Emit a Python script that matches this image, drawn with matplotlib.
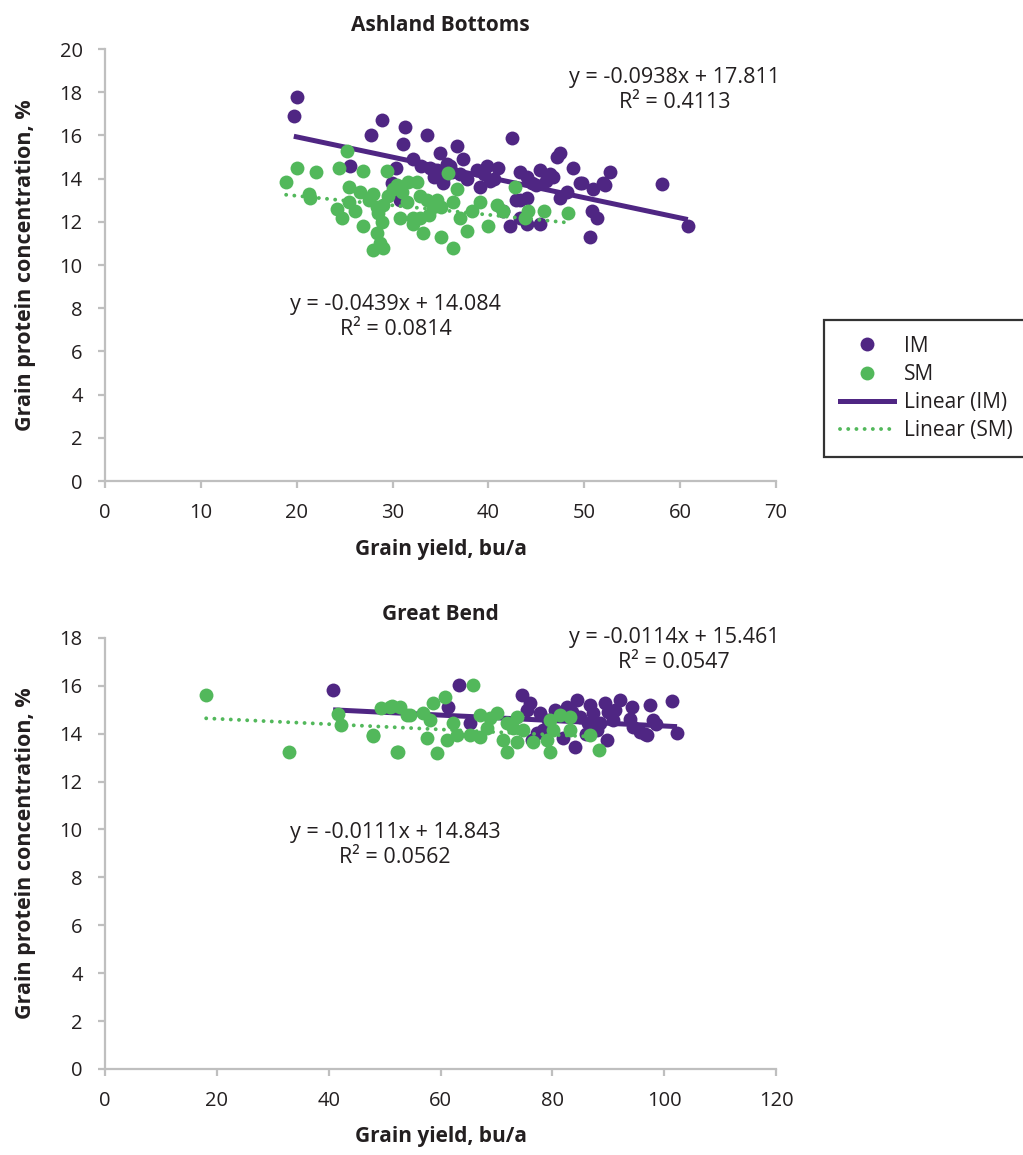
import numpy as np
import matplotlib
matplotlib.use('Agg')
import matplotlib.pyplot as plt
from matplotlib.lines import Line2D

plt.rcParams['font.family'] = ['Open Sans', 'DejaVu Sans']

purple = '#4f2683'
green = '#52b85b'
txt = '#231f20'
gray = '#bfbfbf'

# ---- Ashland Bottoms ----
ab_im_x = [19.7, 20.0, 25.6, 27.7, 28.9, 31.3, 31.1, 33.6, 42.5, 30.4, 29.9, 30.8,
           32.1, 33.0, 33.9, 34.3, 34.9, 35.3, 35.7, 35.3, 36.7, 37.3, 36.2, 38.8,
           39.8, 39.1, 40.2, 41.5, 42.2, 42.9, 43.3, 44.0, 44.5, 45.4, 46.4, 46.7,
           47.2, 47.5, 48.8, 48.2, 49.8, 49.6, 50.9, 52.7, 52.2, 52.0, 43.3, 44.0,
           47.5, 45.4, 44.0, 50.8, 51.3, 50.6, 58.1, 60.8, 43.3, 45.0, 46.0, 41.0,
           37.8, 39.5, 34.6, 36.0, 37.0, 40.6]
ab_im_y = [16.9, 17.8, 14.6, 16.0, 16.7, 16.4, 15.6, 16.0, 15.9, 14.5, 13.8, 13.0,
           14.9, 14.6, 14.5, 14.1, 15.2, 14.0, 14.7, 13.8, 15.5, 14.9, 14.3, 14.4,
           14.6, 13.6, 13.9, 12.5, 11.8, 13.0, 14.3, 14.1, 13.8, 14.4, 14.2, 14.1,
           15.0, 15.2, 14.5, 13.4, 13.8, 13.8, 13.5, 14.3, 13.7, 13.8, 13.0, 13.1,
           13.1, 11.9, 11.9, 12.5, 12.2, 11.3, 13.75, 11.8, 12.2, 13.7, 13.9, 14.5,
           14.0, 14.2, 14.4, 14.6, 14.2, 14.0]
ab_sm_x = [25.2, 20.0, 22.0, 24.4, 26.9, 29.4, 18.9, 21.3, 21.4, 24.2, 24.7, 25.5,
           26.6, 25.5, 26.1, 28.0, 29.0, 28.4, 28.5, 26.9, 28.9, 28.4, 28.7, 28.0,
           29.0, 30.0, 30.5, 31.6, 32.5, 31.5, 32.9, 33.6, 34.2, 35.0, 30.8, 32.1,
           32.9, 32.1, 33.2, 35.0, 36.3, 35.8, 36.7, 36.3, 37.0, 37.8, 38.3, 39.1,
           40.0, 40.9, 41.5, 42.8, 44.1, 43.8, 45.8, 48.3, 27.5, 29.5, 31.0, 33.8,
           34.6]
ab_sm_y = [15.3, 14.5, 14.3, 14.5, 14.35, 14.35, 13.85, 13.3, 13.1, 12.6, 12.2, 13.6,
           13.4, 12.9, 12.5, 13.3, 12.8, 12.7, 12.4, 11.8, 12.0, 11.5, 11.0, 10.7,
           10.8, 13.5, 13.7, 13.85, 13.85, 12.9, 13.2, 13.0, 12.7, 12.7, 12.2, 12.2,
           12.2, 11.9, 11.5, 11.3, 10.8, 14.25, 13.5, 12.9, 12.2, 11.6, 12.5, 12.9,
           11.8, 12.8, 12.5, 13.6, 12.5, 12.2, 12.5, 12.4, 13.0, 13.2, 13.4, 12.3,
           13.0]
ab_im_fit = (-0.0938, 17.811, 0.4113)
ab_sm_fit = (-0.0439, 14.084, 0.0814)

# ---- Great Bend ----
gb_im_x = [40.8, 63.3, 61.4, 65.3, 74.6, 76.0, 75.5, 77.8, 78.4, 77.3, 82.6, 84.4,
           86.8, 87.3, 89.4, 92.1, 94.3, 90.9, 88.6, 89.8, 84.1, 81.9, 86.4, 94.5,
           95.7, 96.9, 98.0, 101.4, 102.3, 85.0, 88.0, 97.5, 91.2, 93.9, 96.6, 79.2,
           76.4, 83.5, 90.0, 86.0, 98.5, 80.5]
gb_im_y = [15.83, 16.04, 15.1, 14.45, 15.6, 15.3, 15.0, 14.87, 14.16, 14.03, 15.1, 15.4,
           15.2, 14.87, 15.3, 15.4, 15.1, 14.58, 14.45, 13.74, 13.45, 13.83, 14.45, 14.29,
           14.08, 13.95, 14.58, 15.37, 14.03, 14.7, 14.16, 15.2, 15.0, 14.6, 14.0, 14.58,
           13.74, 14.9, 14.9, 14.0, 14.4, 15.0]
gb_sm_x = [18.1, 32.9, 41.7, 42.2, 47.9, 49.4, 51.3, 52.2, 65.8, 51.0, 52.8, 54.0,
           56.9, 58.7, 60.8, 58.1, 57.6, 61.2, 63.0, 59.4, 52.4, 62.3, 65.3, 67.1,
           68.3, 70.1, 68.9, 71.9, 73.0, 74.8, 71.2, 71.9, 73.7, 76.6, 79.1, 79.6,
           81.4, 79.6, 83.2, 83.2, 86.8, 88.4, 80.1, 67.1, 73.7, 48.0, 54.5]
gb_sm_y = [15.6, 13.24, 14.83, 14.37, 13.91, 15.08, 15.16, 13.24, 16.04, 15.1, 15.1, 14.79,
           14.87, 15.29, 15.54, 14.58, 13.83, 13.74, 13.95, 13.2, 13.24, 14.45, 13.95, 13.87,
           14.24, 14.87, 14.66, 14.45, 14.24, 14.16, 13.74, 13.24, 13.66, 13.66, 13.74, 13.24,
           14.79, 14.58, 14.7, 14.16, 13.95, 13.32, 14.16, 14.79, 14.7, 13.95, 14.8]
gb_im_fit = (-0.0114, 15.461, 0.0547)
gb_sm_fit = (-0.0111, 14.843, 0.0562)


def fit_text(fit):
    return 'y = %gx + %g\nR\u00b2 = %g' % (fit[0], fit[1], fit[2])


def draw_panel(ax, title, im_x, im_y, sm_x, sm_y, im_fit, sm_fit,
               xmax, xstep, ymax, im_pos, sm_pos):
    ax.plot(im_x, im_y, 'o', color=purple, ms=10, mew=0, zorder=2)
    xs = np.array([min(im_x), max(im_x)])
    ax.plot(xs, im_fit[0] * xs + im_fit[1], color=purple, lw=3.6,
            solid_capstyle='butt', zorder=3)
    ax.plot(sm_x, sm_y, 'o', color=green, ms=10, mew=0, zorder=4)
    xs = np.array([min(sm_x), max(sm_x)])
    ax.plot(xs, sm_fit[0] * xs + sm_fit[1], color=green, lw=2.8,
            linestyle=(0, (0.01, 2.1)), dash_capstyle='round', zorder=5)

    ax.set_xlim(0, xmax)
    ax.set_ylim(0, ymax)
    ax.set_xticks(np.arange(0, xmax + 1, xstep))
    ax.set_yticks(np.arange(0, ymax + 1, 2))
    for s in ['top', 'right']:
        ax.spines[s].set_visible(False)
    for s in ['left', 'bottom']:
        ax.spines[s].set_color(gray)
        ax.spines[s].set_linewidth(1.6)
    ax.tick_params(axis='both', direction='out', length=5, width=1.6,
                   color=gray, labelsize=14.5, labelcolor=txt)
    ax.tick_params(axis='y', pad=11)
    ax.tick_params(axis='x', pad=11)
    ax.set_title(title, fontsize=15, fontweight='bold', color=txt, pad=13)
    ax.set_xlabel('Grain yield, bu/a', fontsize=15, fontweight='bold',
                  color=txt, labelpad=11)
    ax.set_ylabel('Grain protein concentration, %', fontsize=15.5,
                  fontweight='bold', color=txt, labelpad=17)
    ax.text(im_pos[0], im_pos[1], fit_text(im_fit), ha='center', va='center',
            fontsize=15.5, color=txt, linespacing=1.25)
    ax.text(sm_pos[0], sm_pos[1], fit_text(sm_fit), ha='center', va='center',
            fontsize=15.5, color=txt, linespacing=1.25)


fig = plt.figure(figsize=(10.23, 11.55), dpi=100)
ax1 = fig.add_axes([0.1026, 0.5835, 0.656, 0.374])
ax2 = fig.add_axes([0.1026, 0.0745, 0.656, 0.3732])

draw_panel(ax1, 'Ashland Bottoms', ab_im_x, ab_im_y, ab_sm_x, ab_sm_y,
           ab_im_fit, ab_sm_fit, 70, 10, 20, (59.4, 18.1), (30.3, 7.6))
draw_panel(ax2, 'Great Bend', gb_im_x, gb_im_y, gb_sm_x, gb_sm_y,
           gb_im_fit, gb_sm_fit, 120, 20, 18, (101.8, 17.5), (51.9, 9.34))

handles = [
    Line2D([], [], ls='none', marker='o', color=purple, ms=10, mew=0),
    Line2D([], [], ls='none', marker='o', color=green, ms=10, mew=0),
    Line2D([], [], color=purple, lw=3.6),
    Line2D([], [], color=green, lw=2.8, ls=(0, (0.01, 2.1)), dash_capstyle='round'),
]
labels = ['IM', 'SM', 'Linear (IM)', 'Linear (SM)']
leg = fig.legend(handles, labels, loc='upper left',
                 bbox_to_anchor=(824 / 1023, 1 - 320 / 1155),
                 frameon=True, fancybox=False, fontsize=15, handlelength=2.6,
                 borderpad=0.75, labelspacing=0.35, handletextpad=0.5,
                 borderaxespad=0)
leg.get_frame().set_edgecolor('black')
leg.get_frame().set_linewidth(1.6)
for t in leg.get_texts():
    t.set_color(txt)

plt.savefig('out.png', dpi=100)
